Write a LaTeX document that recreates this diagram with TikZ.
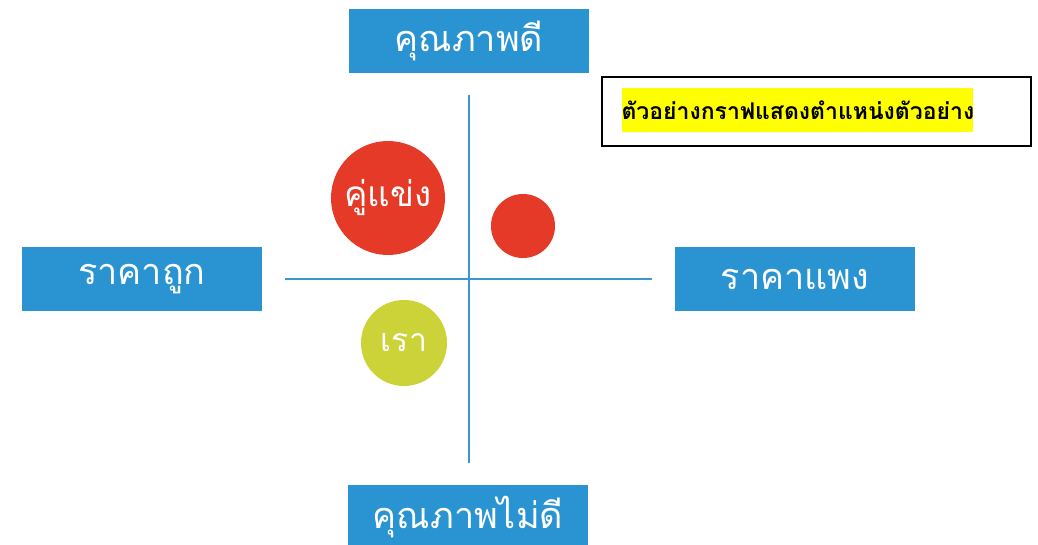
\documentclass[tikz,border=0pt]{standalone}
\usepackage{fontspec}
\newfontfamily\thaifont[Script=Thai]{Loma}
\definecolor{boxblue}{HTML}{2A93D2}
\definecolor{axisblue}{HTML}{3A97D3}
\definecolor{compred}{HTML}{E53A27}
\definecolor{ourgreen}{HTML}{CCD338}
\definecolor{hl}{HTML}{FFFF00}
\tikzset{
  bluebox/.style={fill=boxblue, text=white, minimum width=240pt, minimum height=64pt, inner sep=0pt, font=\thaifont\fontsize{36}{40}\selectfont},
  axis/.style={draw=axisblue, line width=2.6pt},
  bubble/.style={circle, inner sep=0pt, text=white, font=\thaifont\fontsize{35}{40}\selectfont}
}
\begin{document}
\begin{tikzpicture}[x=1pt,y=-1pt]
\useasboundingbox[fill=white] (0,0) rectangle (1038,545);
\coordinate (hl) at (285,279);
\coordinate (hr) at (652,279);
\coordinate (vt) at (469,95);
\coordinate (vb) at (469,463);
\draw[axis] (hl) -- (hr);
\draw[axis] (vt) -- (vb);
\node[bluebox] (top) at (469,41) {คุณภาพดี};
\node[bluebox] (left) at (142,279) {ราคาถูก};
\node[bluebox] (right) at (795,279) {ราคาแพง};
\node[bluebox, minimum height=64pt] (bottom) at (468,517) {คุณภาพไม่ดี};
\node[bubble, fill=compred, minimum size=114pt] (comp) at (388,198) {คู่แข่ง};
\node[bubble, fill=compred, minimum size=64pt] (small) at (523,226) {};
\node[bubble, fill=ourgreen, minimum size=86pt, font=\thaifont\fontsize{32}{36}\selectfont] (us) at (404,343) {เรา};
\node[draw=black, line width=1.6pt, minimum width=429pt, minimum height=69pt, inner sep=0pt] (legend) at (816.5,111.5) {};
\node[fill=hl, inner sep=0pt, minimum height=44pt, text width=351pt, align=center, font=\thaifont\bfseries\fontsize{23}{26}\selectfont] (legtext) at (797,110) {ตัวอย่างกราฟแสดงตำแหน่งตัวอย่าง};
\end{tikzpicture}
\end{document}
